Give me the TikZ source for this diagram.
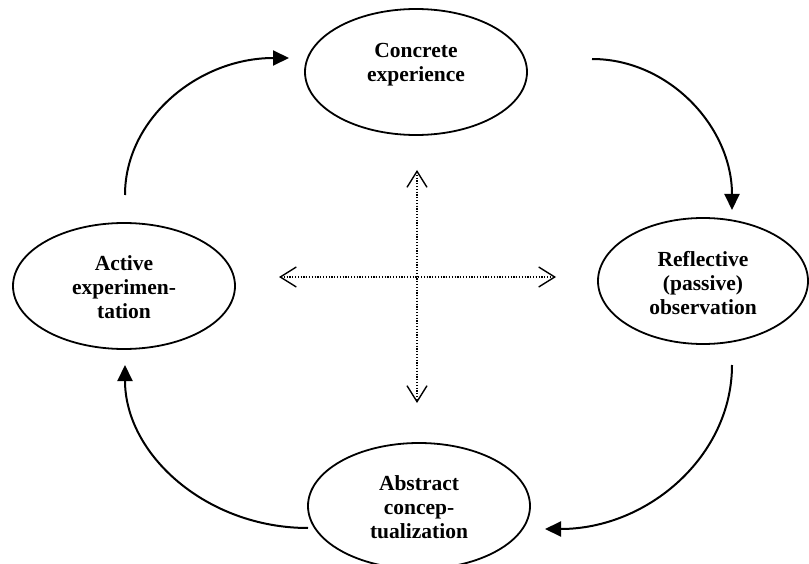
\documentclass[tikz,border=0pt]{standalone}
\usepackage{fontspec}
\setmainfont{Liberation Serif}
\usetikzlibrary{arrows.meta,shapes.geometric}
\begin{document}
\begin{tikzpicture}[x=1pt,y=-1pt,
  stage/.style={ellipse,draw,line width=1.8pt,minimum width=222pt,minimum height=126pt,inner sep=0pt},
  stagetext/.style={align=center,font=\bfseries\fontsize{21.5}{24}\selectfont,inner sep=0pt},
  cycle/.style={line width=2pt,-{Triangle[length=16pt,width=15pt]}},
  axis/.style={line width=1.1pt,dash pattern=on 1.2pt off 1.6pt,{Straight Barb[length=16pt,width=20pt,line width=1.4pt]}-{Straight Barb[length=16pt,width=20pt,line width=1.4pt]}}
]
\useasboundingbox (0,0) rectangle (809,564);
% stages
\node[stage] (ce) at (416,72) {};
\node[stagetext] (cet) at (416,65) {Concrete\\experience};
\node[stage,minimum width=210pt] (ro) at (703,281) {};
\node[stagetext] (rot) at (703,283) {Reflective\\(passive)\\observation};
\node[stage] (ac) at (419,506) {};
\node[stagetext] (act) at (419,507) {Abstract\\concep-\\tualization};
\node[stage] (ae) at (124,286) {};
\node[stagetext] (aet) at (124,287) {Active\\experimen-\\tation};
% cycle arrow end points
\coordinate (a1s) at (125,195);
\coordinate (a1e) at (289,58);
\coordinate (a2s) at (592,59);
\coordinate (a2e) at (732,210);
\coordinate (a3s) at (732,365);
\coordinate (a3e) at (545,529);
\coordinate (a4s) at (308,528);
\coordinate (a4e) at (125,365);
\draw[cycle] (a1s) .. controls (125,119) and (198,58) .. (a1e);
\draw[cycle] (a2s) .. controls (669,59) and (732,127) .. (a2e);
\draw[cycle] (a3s) .. controls (732,456) and (648,529) .. (a3e);
\draw[cycle] (a4s) .. controls (207,528) and (125,455) .. (a4e);
% dotted cross
\coordinate (top) at (417,170);
\coordinate (bot) at (417,403);
\coordinate (lft) at (279,277);
\coordinate (rgt) at (556,277);
\draw[axis] (top) -- (bot);
\draw[axis] (lft) -- (rgt);
\end{tikzpicture}
\end{document}
